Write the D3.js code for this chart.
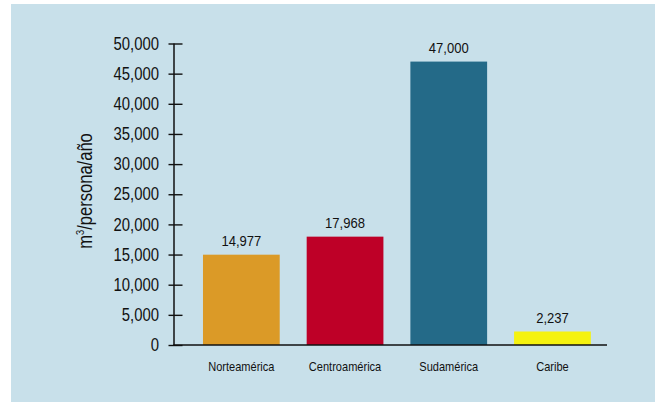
<!DOCTYPE html>
<html><head><meta charset="utf-8">
<script src="https://cdn.jsdelivr.net/npm/d3@7"></script>
<style>
body{margin:0;background:#fff;}
text{font-family:"Liberation Sans Narrow","Arial Narrow","Liberation Sans",Arial,sans-serif;fill:#111;}
</style></head>
<body>
<svg id="chart" width="655" height="404"></svg>
<script>
const categories = ["Norteamérica","Centroamérica","Sudamérica","Caribe"];
const values = [14977, 17968, 47000, 2237];
const valueLabels = ["14,977","17,968","47,000","2,237"];
const colors = ["#db9a27","#be0027","#246a88","#f5f20f"];
const yTicks = [0,5000,10000,15000,20000,25000,30000,35000,40000,45000,50000];

const K = 0.85; // horizontal condensing to mimic a narrow face

const svg = d3.select("#chart");
svg.append("rect").attr("x",11).attr("y",4).attr("width",644).attr("height",398).attr("fill","#c8e0ea");

const y = d3.scaleLinear().domain([0,50000]).range([345,43.5]);
const x = d3.scaleBand().domain(categories).range([189.5,604.3]).paddingInner(0.26).paddingOuter(0.13);

// bars
svg.selectAll("rect.bar").data(values).enter().append("rect")
  .attr("class","bar")
  .attr("x",(d,i)=>x(categories[i]))
  .attr("width",x.bandwidth())
  .attr("y",d=>y(d))
  .attr("height",d=>y(0)-y(d))
  .attr("fill",(d,i)=>colors[i]);

// value labels
svg.selectAll("text.val").data(values).enter().append("text")
  .attr("class","val")
  .attr("transform",(d,i)=>"translate("+(x(categories[i])+x.bandwidth()/2)+","+(y(d)-9)+") scale(0.9,1)")
  .attr("text-anchor","middle")
  .attr("font-size",14.5)
  .text((d,i)=>valueLabels[i]);

// y axis
const yAxis = d3.axisLeft(y).tickValues(yTicks).tickSize(0).tickPadding(0)
  .tickFormat(d=>d===0?"0":d3.format(",")(d));
const gy = svg.append("g").attr("transform","translate(174,0)").call(yAxis);
gy.select(".domain").remove();
gy.selectAll(".tick line").remove();
gy.selectAll(".tick").append("line").attr("x1",-5.5).attr("x2",8.5).attr("stroke","#111").attr("stroke-width",1.4);
gy.selectAll(".tick text").attr("x",-15/K).attr("dy","0.32em").attr("font-size",17.5)
  .attr("transform","scale("+K+",1)")
  .attr("font-family",null).style("fill","#111");
svg.append("line").attr("x1",174).attr("x2",174).attr("y1",y(50000)).attr("y2",y(0)+0.7).attr("stroke","#111").attr("stroke-width",1.5);

// x axis
svg.append("line").attr("x1",173.3).attr("x2",607).attr("y1",y(0)).attr("y2",y(0)).attr("stroke","#111").attr("stroke-width",1.5);
const xAxis = d3.axisBottom(x).tickSize(0).tickPadding(0);
const gx = svg.append("g").attr("transform","translate(0,"+y(0)+")").call(xAxis);
gx.select(".domain").remove();
gx.selectAll(".tick text").attr("y",26).attr("dy",0).attr("font-size",13)
  .attr("transform","scale("+K+",1)")
  .attr("font-family",null).style("fill","#111");

// y title
const t = svg.append("text").attr("transform","translate(92,191) rotate(-90) scale("+K+",1)").attr("text-anchor","middle").attr("font-size",19.5);
t.append("tspan").text("m");
t.append("tspan").attr("font-size",11).attr("dy",-8).text("3");
t.append("tspan").attr("dy",8).text("/persona/año");
</script>
</body></html>
